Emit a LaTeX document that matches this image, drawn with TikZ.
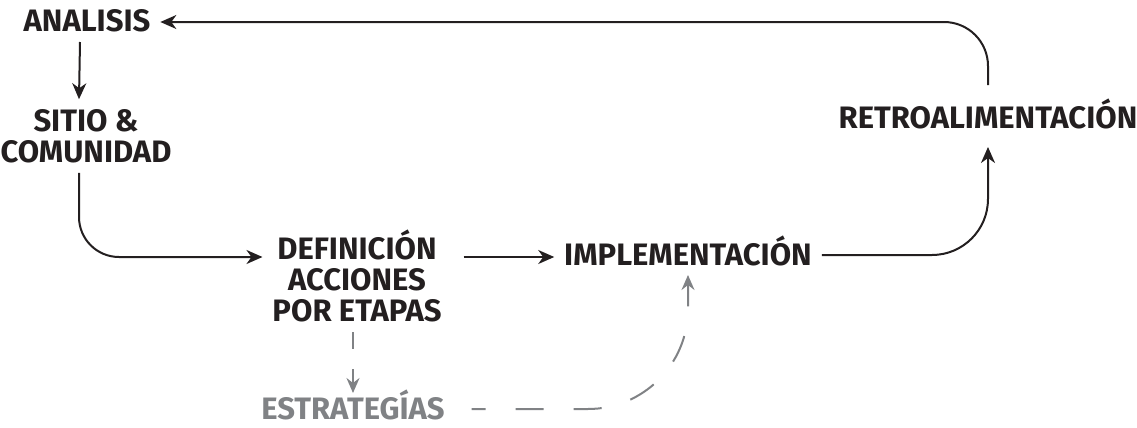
\documentclass[tikz,border=0pt]{standalone}
\usepackage{fontspec}
\setmainfont{Fira Sans}
\usepackage{xcolor}
\usetikzlibrary{positioning,arrows.meta}
\definecolor{tinta}{HTML}{231F20}
\definecolor{gris}{HTML}{808285}

\begin{document}
\begin{tikzpicture}[x=0.5pt,y=-0.5pt,
    etapa/.style={font=\fontsize{15.5}{15.5}\selectfont\bfseries,text=tinta,align=center,inner sep=5pt,outer sep=0pt},
    rotulo/.style={etapa,text height=10pt,text depth=0pt},
    flecha/.style={draw=tinta,line width=1pt,-{Stealth[length=8pt,width=7pt,inset=2.5pt]}},
    guion/.style={draw=gris,line width=1pt,dash pattern=on 14pt off 15pt,-{Stealth[length=7.5pt,width=6.5pt,inset=2.5pt]}}]
  \useasboundingbox (0,0) rectangle (1137,428);
  % stages
  \node[rotulo] (analisis) at (87,22) {ANALISIS};
  \node[etapa] (sitio) at (86,136) {SITIO \&\\COMUNIDAD};
  \node[etapa] (definicion) at (357,276) {DEFINICIÓN\\ACCIONES\\POR ETAPAS};
  \node[rotulo] (implementacion) at (688,255) {IMPLEMENTACIÓN};
  \node[rotulo] (retro) at (988,118) {RETROALIMENTACIÓN};
  \node[rotulo,text=gris,inner sep=1.5pt] (estrategias) at (353,409) {ESTRATEGÍAS};
  % main cycle
  \draw[flecha] ([xshift=-3.5pt]analisis.south) -- ([xshift=-3.5pt]sitio.north);
  \draw[flecha,rounded corners=20pt] ([xshift=-3.5pt]sitio.south) |- ([yshift=9.5pt]definicion.west);
  \draw[flecha,shorten <=6pt] ([yshift=9.5pt]definicion.east) -- (implementacion.west |- 0,257);
  \draw[flecha,rounded corners=28pt,shorten >=4.5pt] (implementacion.east) -| (retro.south);
  \draw[flecha,rounded corners=22pt,shorten <=6.5pt] (retro.north) |- (analisis.east);
  % strategies branch
  \draw[guion,dash pattern=on 8.5pt off 10pt,shorten >=1.5pt] ([xshift=-2pt]definicion.south) -- (estrategias.north);
  \draw[guion,rounded corners=50pt,dash phase=7pt,shorten <=12pt] (estrategias.east) -| (implementacion.south);
\end{tikzpicture}
\end{document}
